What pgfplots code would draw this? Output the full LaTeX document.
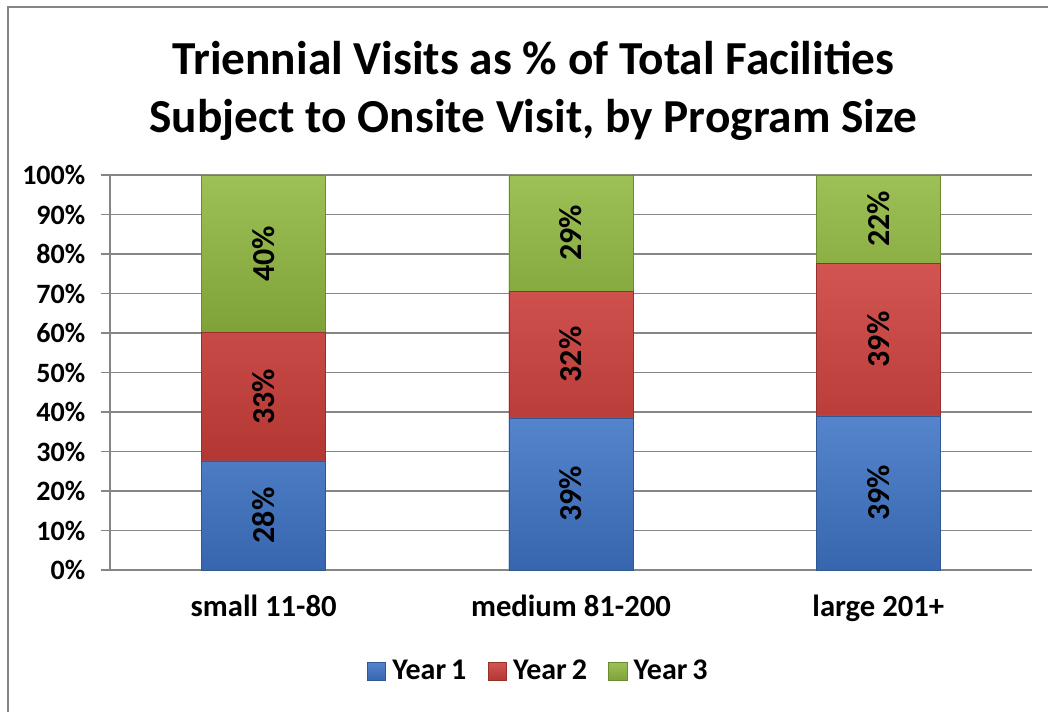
\documentclass[border=0pt]{standalone}
\usepackage{fontspec}
\setmainfont{Carlito}
\usepackage{pgfplots}
\pgfplotsset{compat=1.18}
\usepackage{pgfplotstable}

\definecolor{yone}{RGB}{62,116,198}
\definecolor{ytwo}{RGB}{204,62,58}
\definecolor{ythree}{RGB}{144,184,64}
\definecolor{axgray}{RGB}{134,134,134}

\pgfplotstableread{
x y1 y2 y3
0 27.6 32.6 39.8
1 38.5 32.1 29.4
2 39.0 38.7 22.3
}\bars

\pgfplotstableread{
x y label
0 13.8 28\%
0 43.9 33\%
0 80.1 40\%
1 19.25 39\%
1 54.55 32\%
1 85.3 29\%
2 19.5 39\%
2 58.35 39\%
2 88.85 22\%
}\labels

\begin{document}
\begin{tikzpicture}[x=1pt,y=1pt]
\useasboundingbox (0,0) rectangle (786,533.25);
\draw[axgray, line width=1.2pt] (6,-5) -- (6,528) -- (800,528);
\node[align=center, font=\fontsize{35.5}{43}\selectfont\bfseries] at (400,465)
  {Triennial Visits as \% of Total Facilities\\Subject to Onsite Visit, by Program Size};

\begin{axis}[
  at={(82.5pt,105.75pt)}, anchor=south west,
  scale only axis, width=691.5pt, height=296.25pt,
  ybar stacked, bar width=0.404,
  xmin=-0.5, xmax=2.5, ymin=0, ymax=100,
  axis x line*=bottom, axis y line*=left,
  axis line style={axgray, line width=1pt},
  ytick={0,10,...,100},
  yticklabel={\pgfmathprintnumber{\tick}\%},
  /pgf/number format/assume math mode=true,
  yticklabel style={font=\fontsize{21}{24}\selectfont\bfseries, xshift=-8pt},
  ymajorgrids, grid style={axgray, line width=1pt},
  xtick={0,1,2},
  xticklabels={small 11-80, medium 81-200, large 201+},
  x tick style={draw=none},
  xticklabel style={font=\fontsize{23}{26}\selectfont\bfseries, yshift=-8pt},
  extra x ticks={-0.5,0.5,1.5,2.5},
  extra x tick labels={},
  extra x tick style={major tick length=7pt, tick style={axgray, line width=1pt, draw=axgray}, grid=none},
  tick align=outside,
  y tick style={axgray, line width=1pt},
  major tick length=7pt,
  legend style={at={(0.465,-0.256)}, anchor=center, draw=none,
    legend columns=3, font=\fontsize{22.5}{26}\selectfont\bfseries,
    /tikz/every odd column/.append style={column sep=3pt},
    /tikz/every even column/.append style={column sep=14pt}},
  legend image code/.code={\fill[#1] (0pt,-6.8pt) rectangle (13.6pt,6.8pt);},
]
\addplot[fill=yone, top color=yone!88!white, bottom color=yone!88!black, draw=yone!75!black] table[x=x,y=y1] {\bars};
\addplot[fill=ytwo, top color=ytwo!88!white, bottom color=ytwo!88!black, draw=ytwo!75!black] table[x=x,y=y2] {\bars};
\addplot[fill=ythree, top color=ythree!88!white, bottom color=ythree!88!black, draw=ythree!75!black] table[x=x,y=y3] {\bars};
\legend{Year\,1, Year\,2, Year\,3}
\end{axis}

\begin{axis}[
  at={(82.5pt,105.75pt)}, anchor=south west,
  scale only axis, width=691.5pt, height=296.25pt,
  xmin=-0.5, xmax=2.5, ymin=0, ymax=100,
  hide axis,
]
\addplot[only marks, mark=none, nodes near coords, point meta=explicit symbolic,
  every node near coord/.style={rotate=90, anchor=center, font=\fontsize{24}{28}\selectfont\bfseries}]
  table[x=x, y=y, meta=label] {\labels};
\end{axis}
\end{tikzpicture}
\end{document}
